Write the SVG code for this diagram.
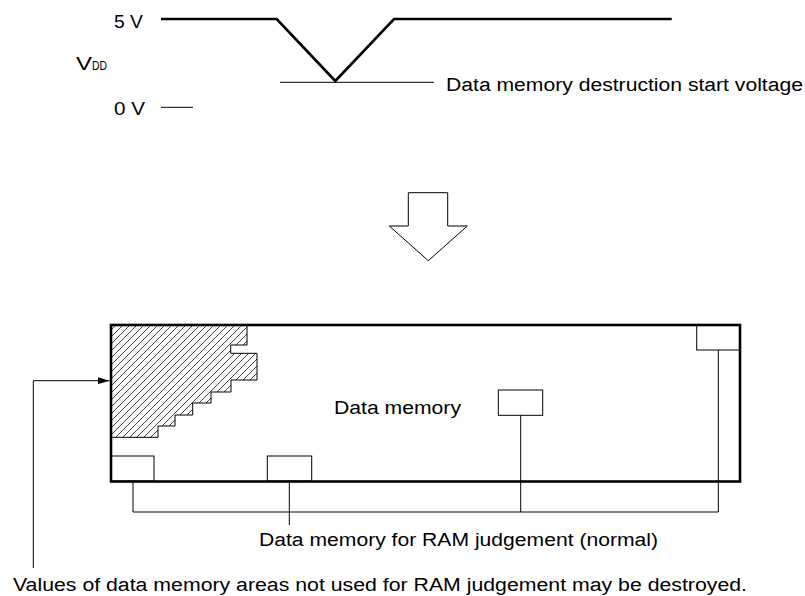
<svg xmlns="http://www.w3.org/2000/svg" width="805" height="596" viewBox="0 0 805 596">
<style>
text{font-family:"Liberation Sans",Arial,sans-serif;font-size:18px;fill:#000}
.thin{fill:none;stroke:#000;stroke-width:1}
.box{fill:#fff;stroke:#000;stroke-width:1}
.thick{fill:none;stroke:#000;stroke-width:2.6;stroke-linejoin:miter}
.frame{fill:none;stroke:#000;stroke-width:2.6}
</style>
<defs>
<pattern id="hatch" patternUnits="userSpaceOnUse" width="7" height="7">
<path d="M0,7 L7,0 M-1,1 L1,-1 M6,8 L8,6" stroke="#000" stroke-width="0.75"/>
</pattern>
<marker id="arr" markerWidth="12" markerHeight="7" refX="12" refY="3.5" orient="auto" markerUnits="userSpaceOnUse">
<path d="M0,0 L12,3.5 L0,7 Z" fill="#000"/>
</marker>
</defs>
<rect width="805" height="596" fill="#fff"/>

<g id="waveform">
<text x="114" y="28" textLength="29" lengthAdjust="spacingAndGlyphs">5 V</text>
<text x="76" y="70" textLength="16" lengthAdjust="spacingAndGlyphs">V</text>
<text x="92" y="70" style="font-size:13px" textLength="15" lengthAdjust="spacingAndGlyphs">DD</text>
<text x="114" y="115" textLength="31" lengthAdjust="spacingAndGlyphs">0 V</text>
<line class="thin" x1="161" y1="107.3" x2="193" y2="107.3"/>
<polyline class="thick" points="161,19 276.7,19 335.3,81 394,19 671.7,19"/>
<line class="thin" x1="280" y1="82.3" x2="434" y2="82.3"/>
<text x="446" y="91" textLength="357" lengthAdjust="spacingAndGlyphs">Data memory destruction start voltage</text>
</g>

<g id="down-arrow">
<polygon class="box" points="408.3,192.7 447.7,192.7 447.7,226 467.3,226 428.3,260.7 389.3,226 408.3,226"/>
</g>

<g id="data-memory">
<rect x="111" y="325" width="629" height="156.5" fill="#fff"/>
<polygon points="111,325 247,325 247,345 230.7,345 230.7,353.3 257,353.3 257,380 231,380 231,392 211,392 211,403 192.7,403 192.7,415 175,415 175,426 158,426 158,437.3 111,437.3" fill="url(#hatch)" stroke="#000" stroke-width="1"/>
<text x="334" y="414.3" textLength="127" lengthAdjust="spacingAndGlyphs">Data memory</text>
</g>

<g id="ram-box-1"><rect class="box" x="111" y="456" width="43" height="25"/></g>
<g id="ram-box-2"><rect class="box" x="267.3" y="456" width="44.4" height="25"/></g>
<g id="ram-box-3"><rect class="box" x="498.3" y="390" width="44.4" height="25.3"/></g>
<g id="ram-box-4"><rect class="box" x="696.7" y="325" width="43.3" height="25"/></g>
<g id="data-memory-frame"><rect class="frame" x="111" y="325" width="629" height="156.5"/></g>

<g id="connectors">
<polyline class="thin" points="133,482.5 133,512 718.3,512 718.3,350"/>
<line class="thin" x1="289.3" y1="482.5" x2="289.3" y2="525"/>
<line class="thin" x1="520.7" y1="415.3" x2="520.7" y2="512"/>
<polyline class="thin" points="33.3,568 33.3,380.7 109.5,380.7" marker-end="url(#arr)"/>
</g>

<g id="labels">
<text x="259" y="545.7" textLength="399" lengthAdjust="spacingAndGlyphs">Data memory for RAM judgement (normal)</text>
<text x="13" y="591" textLength="734" lengthAdjust="spacingAndGlyphs">Values of data memory areas not used for RAM judgement may be destroyed.</text>
</g>
</svg>
